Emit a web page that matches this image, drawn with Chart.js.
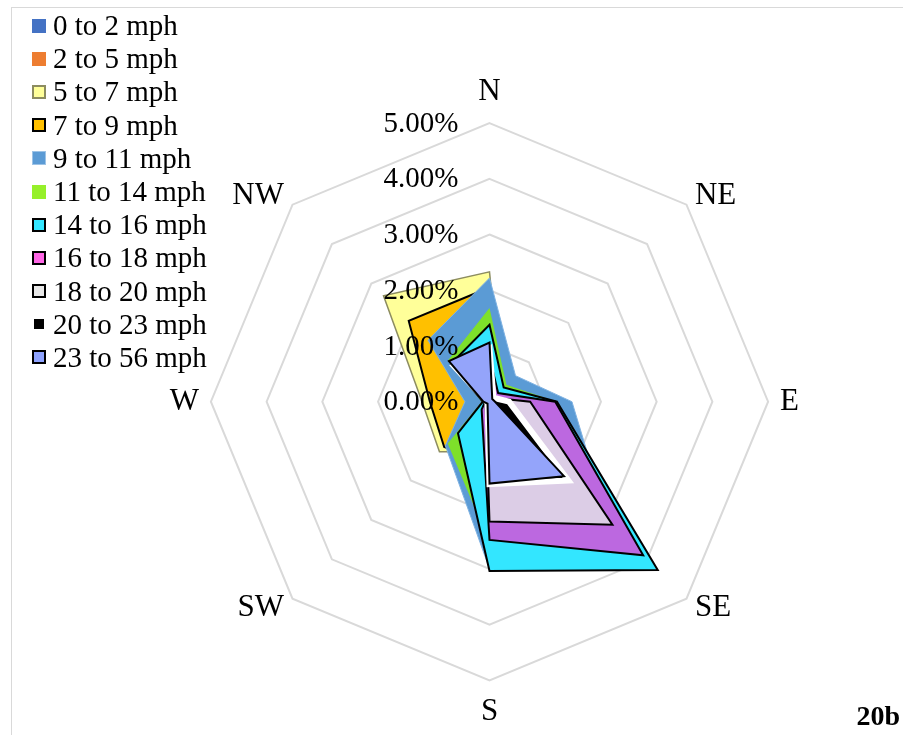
<!DOCTYPE html>
<html>
<head>
<meta charset="utf-8">
<script src="https://cdn.jsdelivr.net/npm/chart.js@4.4.1/dist/chart.umd.min.js"></script>
<style>
  html, body { margin: 0; padding: 0; background: #fff; }
  #wrap { position: relative; width: 903px; height: 735px; overflow: hidden; background: #fff; }
  #chart { position: absolute; left: 0; top: 0; }
  #frame { position: absolute; left: 11px; top: 7px; right: -2px; bottom: -2px;
           border-left: 1px solid #d9d9d9; border-top: 1px solid #d9d9d9; pointer-events: none; }
  #legend { position: absolute; left: 32px; top: 9px; font-family: "Liberation Serif", "Times New Roman", serif;
            font-size: 29px; color: #000; }
  #legend .row { display: flex; align-items: center; height: 33.2px; line-height: 33.2px; white-space: nowrap; }
  #legend .sw { width: 14px; height: 14px; box-sizing: border-box; margin-right: 7px; flex: none; }
  #tag { position: absolute; right: 3px; top: 700px; font-family: "Liberation Serif", "Times New Roman", serif;
         font-weight: bold; font-size: 28px; line-height: 32px; color: #000; }
</style>
</head>
<body>
<div id="wrap">
  <canvas id="chart" width="903" height="735"></canvas>
  <div id="frame"></div>
  <div id="legend"></div>
  <div id="tag">20b</div>
</div>
<script>
// Wind directions around the rose, clockwise from north
const directions = ['N', 'NE', 'E', 'SE', 'S', 'SW', 'W', 'NW'];

// Wind speed classes
const speedClasses = ['0 to 2 mph', '2 to 5 mph', '5 to 7 mph', '7 to 9 mph', '9 to 11 mph',
  '11 to 14 mph', '14 to 16 mph', '16 to 18 mph', '18 to 20 mph', '20 to 23 mph', '23 to 56 mph'];

// Frequency (% of hours) for each speed class, in the order of `directions`
const speed0to2   = [0.03, 0.02, 0.03, 0.05, 0.04, 0.02, 0.02, 0.03];
const speed2to5   = [0.15, 0.08, 0.10, 0.20, 0.15, 0.08, 0.06, 0.12];
const speed5to7   = [2.33, 0.30, 0.50, 1.00, 0.90, 1.27, 1.21, 2.69];
const speed7to9   = [2.05, 0.40, 0.60, 1.20, 1.10, 1.15, 1.07, 2.05];
const speed9to11  = [2.22, 0.66, 1.48, 3.00, 3.00, 1.12, 0.44, 1.56];
const speed11to14 = [1.68, 0.43, 1.20, 3.60, 2.54, 1.06, 0.14, 1.05];
const speed14to16 = [1.38, 0.36, 1.21, 4.27, 3.04, 0.80, 0.12, 0.97];
const speed16to18 = [0.80, 0.22, 1.18, 3.90, 2.48, 0.20, 0.08, 0.30];
const speed18to20 = [0.30, 0.10, 0.73, 3.12, 2.15, 0.10, 0.05, 0.10];
const speed20to23 = [0.95, 0.10, 0.35, 2.00, 1.48, 0.05, 0.05, 0.90];
const speed23to56 = [1.06, 0.07, 0.10, 1.89, 1.47, 0.05, 0.11, 1.03];

// Radial axis ticks (percent)
const axisTicks = [0, 1, 2, 3, 4, 5];

const seriesValues = [speed0to2, speed2to5, speed5to7, speed7to9, speed9to11, speed11to14,
  speed14to16, speed16to18, speed18to20, speed20to23, speed23to56];

// Polygon styles: fill, outline, outline width
const areaStyles = [
  { fill: '#4472C4', line: '#4472C4', width: 0 },
  { fill: '#ED7D31', line: '#ED7D31', width: 0 },
  { fill: '#FFFF99', line: '#8C8C60', width: 1.5 },
  { fill: '#FFC000', line: '#000000', width: 2 },
  { fill: '#5B9BD5', line: '#7FB2E2', width: 1 },
  { fill: '#7EE02A', line: '#7EE02A', width: 0 },
  { fill: '#33E6FF', line: '#000000', width: 2 },
  { fill: '#BC68E0', line: '#000000', width: 2 },
  { fill: '#DCCDE6', line: '#000000', width: 2 },
  { fill: '#000000', line: '#FFFFFF', width: 6 },
  { fill: '#94A4FA', line: '#000000', width: 2 }
];

// Legend swatches: fill and CSS border
const swatchStyles = [
  { fill: '#4472C4', border: 'none' },
  { fill: '#ED7D31', border: 'none' },
  { fill: '#FFFF99', border: '2px solid #8C8C60' },
  { fill: '#FFC000', border: '2px solid #000' },
  { fill: '#5B9BD5', border: '1px solid #9DC3E6' },
  { fill: '#96F02A', border: 'none' },
  { fill: '#33E6FF', border: '2px solid #000' },
  { fill: '#FF66E6', border: '2px solid #000' },
  { fill: '#E8E8E8', border: '2px solid #000' },
  { fill: '#000000', border: '2px solid #fff' },
  { fill: '#8FA3FF', border: '2px solid #000' }
];

const SERIF = '"Liberation Serif", "Times New Roman", serif';
const n = speedClasses.length;

const datasets = speedClasses.map((label, i) => ({
  label,
  data: seriesValues[i],
  backgroundColor: areaStyles[i].fill,
  borderColor: areaStyles[i].line,
  borderWidth: areaStyles[i].width,
  fill: true,
  pointRadius: 0,
  pointHoverRadius: 0,
  pointHitRadius: 0,
  order: n - i   // faster classes are painted over slower ones
}));

// Percent labels along the north spoke, right-aligned left of it
const percentLabels = {
  id: 'percentLabels',
  afterDatasetsDraw(chart) {
    const r = chart.scales.r;
    const ctx = chart.ctx;
    ctx.save();
    ctx.font = '29px ' + SERIF;
    ctx.fillStyle = '#000';
    ctx.textAlign = 'right';
    ctx.textBaseline = 'middle';
    r.ticks.forEach(t => {
      const d = r.getDistanceFromCenterForValue(t.value);
      ctx.fillText(t.value.toFixed(2) + '%', r.xCenter - 31, r.yCenter - d + 1);
    });
    ctx.restore();
  }
};

new Chart(document.getElementById('chart'), {
  type: 'radar',
  data: { labels: directions, datasets },
  options: {
    responsive: false,
    animation: false,
    events: [],
    layout: { padding: 0 },
    elements: { line: { tension: 0, borderJoinStyle: 'miter' } },
    plugins: { legend: { display: false }, tooltip: { enabled: false } },
    scales: {
      r: {
        min: 0,
        max: 5,
        afterSetDimensions(scale) {
          scale.xCenter = 489.5;
          scale.yCenter = 401.7;
          scale.drawingArea = 278.6;
        },
        afterBuildTicks(scale) {
          scale.ticks = axisTicks.map(value => ({ value }));
        },
        ticks: { display: false, stepSize: 1 },
        grid: { color: '#D9D9D9', lineWidth: 2, circular: false },
        angleLines: { display: false },
        pointLabels: {
          color: '#000',
          font: { family: SERIF, size: 31, lineHeight: 0.02 },
          padding: ctx => (ctx.index % 4 === 0 ? 31 : 12)
        }
      }
    }
  },
  plugins: [percentLabels]
});

// Legend built from the same class names
const legendEl = document.getElementById('legend');
speedClasses.forEach((label, i) => {
  const row = document.createElement('div');
  row.className = 'row';
  const sw = document.createElement('span');
  sw.className = 'sw';
  sw.style.background = swatchStyles[i].fill;
  sw.style.border = swatchStyles[i].border;
  const tx = document.createElement('span');
  tx.textContent = label;
  row.appendChild(sw);
  row.appendChild(tx);
  legendEl.appendChild(row);
});
</script>
</body>
</html>
